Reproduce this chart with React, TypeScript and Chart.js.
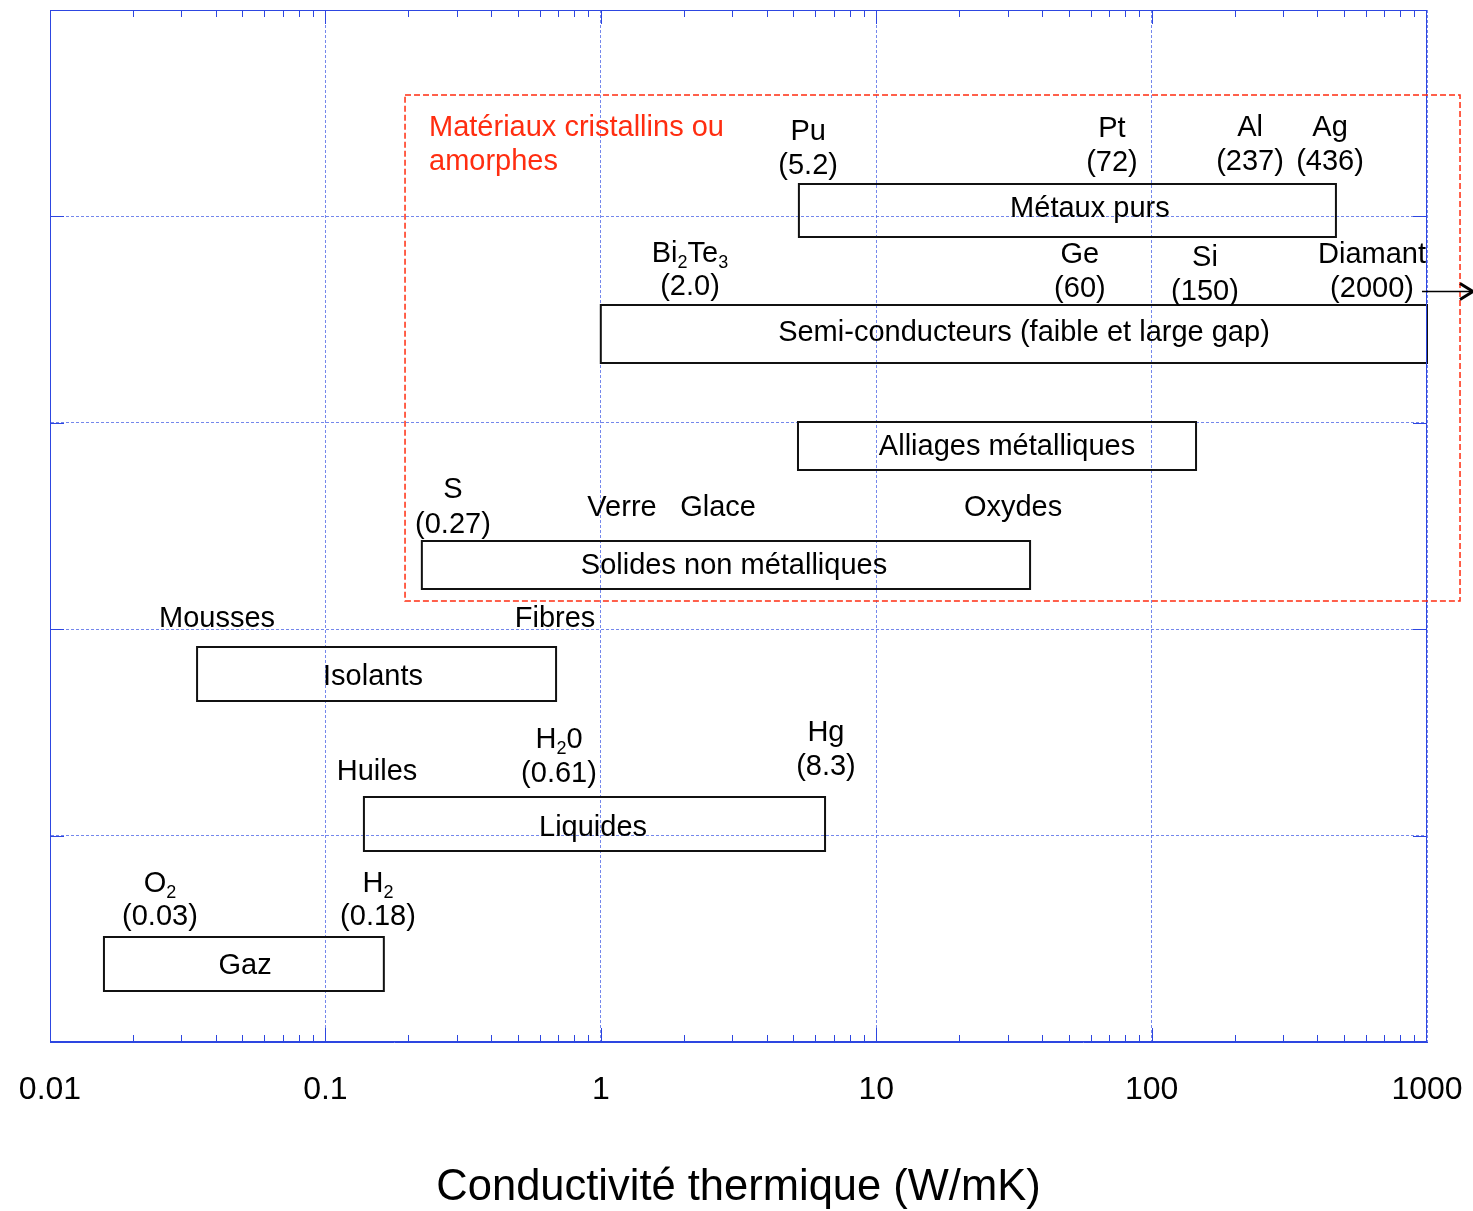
import { useEffect, useRef } from 'react';
import { Chart, registerables } from 'chart.js';

Chart.register(...registerables);

const FONT = '"Liberation Sans", Arial, Helvetica, sans-serif';
const AXIS = 'rgb(45,70,225)';
const GRID = 'rgba(70,95,230,0.75)';
const RED = '#ff2d10';

// x axis (log) ticks
const tickValues = [0.01, 0.1, 1, 10, 100, 1000];
const tickLabels = ['0.01', '0.1', '1', '10', '100', '1000'];
const yGridValues = [1, 2, 3, 4];

// category boxes: range of conductivity (W/mK) and vertical extent
const boxNames = [
  'Métaux purs',
  'Semi-conducteurs (faible et large gap)',
  'Alliages métalliques',
  'Solides non métalliques',
  'Isolants',
  'Liquides',
  'Gaz',
];
const boxMin = [5.24, 1.0, 5.2, 0.224, 0.0342, 0.138, 0.0157];
const boxMax = [467, 1000, 145, 36.2, 0.688, 6.52, 0.163];
const boxLow = [3.9, 3.29, 2.771, 2.195, 1.652, 0.925, 0.247];
const boxHigh = [4.157, 3.571, 3.004, 2.427, 1.914, 1.187, 0.509];
const boxLabelX = [59.7, 34.4, 29.85, 3.046, 0.1489, 0.937, 0.0511];
const boxLabelY = [4.045, 3.445, 2.892, 2.316, 1.778, 1.047, 0.378];

// material annotations ("_" marks a subscript character)
const matNames = [
  'Pu', 'Pt', 'Al', 'Ag', 'Bi_2Te_3', 'Ge', 'Si', 'Diamant', 'S',
  'Verre', 'Glace', 'Oxydes', 'Mousses', 'Fibres', 'Huiles', 'H_20', 'Hg', 'O_2', 'H_2',
];
const matValues = [
  '(5.2)', '(72)', '(237)', '(436)', '(2.0)', '(60)', '(150)', '(2000)', '(0.27)',
  '', '', '', '', '', '', '(0.61)', '(8.3)', '(0.03)', '(0.18)',
];
const matX = [
  5.66, 71.8, 227.7, 444.5, 2.108, 54.9, 156.2, 631.4, 0.2905,
  1.194, 2.665, 31.4, 0.0404, 0.682, 0.154, 0.705, 6.57, 0.02507, 0.1552,
];
const matNameY = [
  4.419, 4.433, 4.438, 4.438, 3.828, 3.823, 3.808, 3.823, 2.684,
  2.597, 2.597, 2.597, 2.059, 2.059, 1.318, 1.473, 1.507, 0.775, 0.775,
];
const matValueY = [
  4.254, 4.268, 4.273, 4.273, 3.668, 3.658, 3.643, 3.658, 2.515,
  0, 0, 0, 0, 0, 0, 1.308, 1.342, 0.615, 0.615,
];

// crystalline / amorphous region
const regionX = [0.1946, 1318];
const regionY = [2.137, 4.588];
const regionTitle = ['Matériaux cristallins ou', 'amorphes'];
const regionTitleX = 0.2378;
const regionTitleY = [4.438, 4.273];

// diamond arrow (off-scale)
const arrowX = [959, 1469];
const arrowY = 3.639;

const isDecade = (v: number) =>
  v > 0 && Math.abs(Math.log10(v) - Math.round(Math.log10(v))) < 1e-6;

function drawRich(ctx: CanvasRenderingContext2D, text: string, cx: number, cy: number, size: number, align: 'center' | 'left' = 'center') {
  const segs: { t: string; sub: boolean }[] = [];
  for (let i = 0; i < text.length; i++) {
    if (text[i] === '_' && i + 1 < text.length) {
      segs.push({ t: text[i + 1], sub: true });
      i++;
    } else {
      const last = segs[segs.length - 1];
      if (last && !last.sub) last.t += text[i];
      else segs.push({ t: text[i], sub: false });
    }
  }
  const subSize = Math.round(size * 0.63);
  let total = 0;
  const widths = segs.map((s) => {
    ctx.font = `${s.sub ? subSize : size}px ${FONT}`;
    const w = ctx.measureText(s.t).width;
    total += w;
    return w;
  });
  let x = align === 'center' ? cx - total / 2 : cx;
  const base = cy + size * 0.358;
  ctx.textAlign = 'left';
  ctx.textBaseline = 'alphabetic';
  segs.forEach((s, i) => {
    ctx.font = `${s.sub ? subSize : size}px ${FONT}`;
    ctx.fillText(s.t, x, s.sub ? base + size * 0.18 : base);
    x += widths[i];
  });
}

const overlay = {
  id: 'overlay',
  afterDatasetsDraw(chart: any) {
    const { ctx, chartArea: a, scales } = chart;
    const xs = scales.x;
    const ys = scales.y;
    const X = (v: number) => xs.getPixelForValue(v);
    const Y = (v: number) => ys.getPixelForValue(v);
    ctx.save();

    // frame + inner ticks
    ctx.strokeStyle = AXIS;
    ctx.lineWidth = 1;
    ctx.setLineDash([]);
    ctx.strokeRect(Math.round(a.left) + 0.5, Math.round(a.top) + 0.5, Math.round(a.right - a.left) - 1, Math.round(a.bottom - a.top) - 1);
    ctx.beginPath();
    for (let d = 0; d < tickValues.length - 1; d++) {
      for (let k = 1; k <= 9; k++) {
        const px = Math.round(X(k * tickValues[d])) + 0.5;
        const len = k === 1 ? 14 : 7;
        ctx.moveTo(px, a.top);
        ctx.lineTo(px, a.top + len);
        ctx.moveTo(px, a.bottom);
        ctx.lineTo(px, a.bottom - len);
      }
    }
    yGridValues.forEach((v) => {
      const py = Math.round(Y(v)) + 0.5;
      ctx.moveTo(a.left, py);
      ctx.lineTo(a.left + 14, py);
      ctx.moveTo(a.right, py);
      ctx.lineTo(a.right - 14, py);
    });
    ctx.stroke();

    // red dashed region
    ctx.strokeStyle = RED;
    ctx.lineWidth = 1.5;
    ctx.setLineDash([6, 3]);
    ctx.strokeRect(X(regionX[0]), Y(regionY[1]), X(regionX[1]) - X(regionX[0]), Y(regionY[0]) - Y(regionY[1]));
    ctx.setLineDash([]);

    // region title
    ctx.fillStyle = RED;
    regionTitle.forEach((t, i) => drawRich(ctx, t, X(regionTitleX), Y(regionTitleY[i]), 29, 'left'));

    // box labels
    ctx.fillStyle = '#000';
    boxNames.forEach((t, i) => drawRich(ctx, t, X(boxLabelX[i]), Y(boxLabelY[i]), 29));

    // material labels
    matNames.forEach((t, i) => {
      drawRich(ctx, t, X(matX[i]), Y(matNameY[i]), 29);
      if (matValues[i]) drawRich(ctx, matValues[i], X(matX[i]), Y(matValueY[i]), 29);
    });

    // arrow
    const ay = Math.round(Y(arrowY)) + 0.5;
    const x0 = X(arrowX[0]);
    const x1 = X(arrowX[1]);
    ctx.strokeStyle = '#000';
    ctx.lineWidth = 1.5;
    ctx.beginPath();
    ctx.moveTo(x0, ay);
    ctx.lineTo(x1 - 2, ay);
    ctx.stroke();
    ctx.lineWidth = 3;
    ctx.beginPath();
    ctx.moveTo(x1 - 13, ay - 8);
    ctx.lineTo(x1, ay);
    ctx.lineTo(x1 - 13, ay + 8);
    ctx.stroke();

    ctx.restore();
  },
};

export default function App() {
  const ref = useRef<HTMLCanvasElement>(null);
  useEffect(() => {
    const canvas = ref.current!;
    const datasets = boxNames.map((name, i) => ({
      label: name,
      data: [
        { x: boxMin[i], y: boxLow[i] },
        { x: boxMax[i], y: boxLow[i] },
        { x: boxMax[i], y: boxHigh[i] },
        { x: boxMin[i], y: boxHigh[i] },
        { x: boxMin[i], y: boxLow[i] },
      ],
      showLine: true,
      borderColor: '#111',
      borderWidth: 2,
      borderCapStyle: 'square' as const,
      borderJoinStyle: 'miter' as const,
      pointRadius: 0,
      pointHoverRadius: 0,
      tension: 0,
      fill: false,
      clip: false as const,
    }));
    const chart = new Chart(canvas, {
      type: 'scatter',
      data: { datasets },
      options: {
        animation: false,
        responsive: false,
        events: [],
        layout: { padding: { left: 0, top: 10, right: 46, bottom: 0 } },
        plugins: { legend: { display: false }, tooltip: { enabled: false } },
        scales: {
          x: {
            type: 'logarithmic',
            min: 0.01,
            max: 1000,
            afterFit: (s: any) => {
              s.height = 169;
              s.paddingLeft = 0;
              s.paddingRight = 0;
            },
            grid: {
              color: (c: any) => (c.tick && isDecade(c.tick.value) ? GRID : 'rgba(0,0,0,0)'),
              lineWidth: 1,
              drawTicks: false,
            },
            border: { display: true, color: AXIS, width: 1, dash: [3, 2] },
            ticks: {
              autoSkip: false,
              maxRotation: 0,
              minRotation: 0,
              padding: 29,
              color: '#000',
              font: { family: FONT, size: 32 },
              callback: (value: any) => {
                const v = Number(value);
                const i = tickValues.findIndex((t) => Math.abs(Math.log10(t) - Math.log10(v)) < 1e-6);
                return i >= 0 ? tickLabels[i] : '';
              },
            },
            title: {
              display: true,
              text: 'Conductivité thermique (W/mK)',
              color: '#000',
              font: { family: FONT, size: 43.5 },
              padding: { top: 0, bottom: -3 },
            },
          },
          y: {
            type: 'linear',
            min: 0,
            max: 5,
            afterFit: (s: any) => {
              s.width = 50;
              s.paddingTop = 0;
              s.paddingBottom = 0;
            },
            grid: {
              color: (c: any) => (c.tick && yGridValues.includes(c.tick.value) ? GRID : 'rgba(0,0,0,0)'),
              lineWidth: 1,
              drawTicks: false,
            },
            border: { display: true, color: AXIS, width: 1, dash: [3, 2] },
            ticks: { display: false, stepSize: 1 },
          },
        },
      },
      plugins: [overlay],
    });
    return () => chart.destroy();
  }, []);
  return (
    <div style={{ position: 'absolute', left: 0, top: 0, width: 1473, height: 1211, background: '#fff' }}>
      <canvas ref={ref} width={1473} height={1211} style={{ display: 'block', width: 1473, height: 1211 }} />
    </div>
  );
}
